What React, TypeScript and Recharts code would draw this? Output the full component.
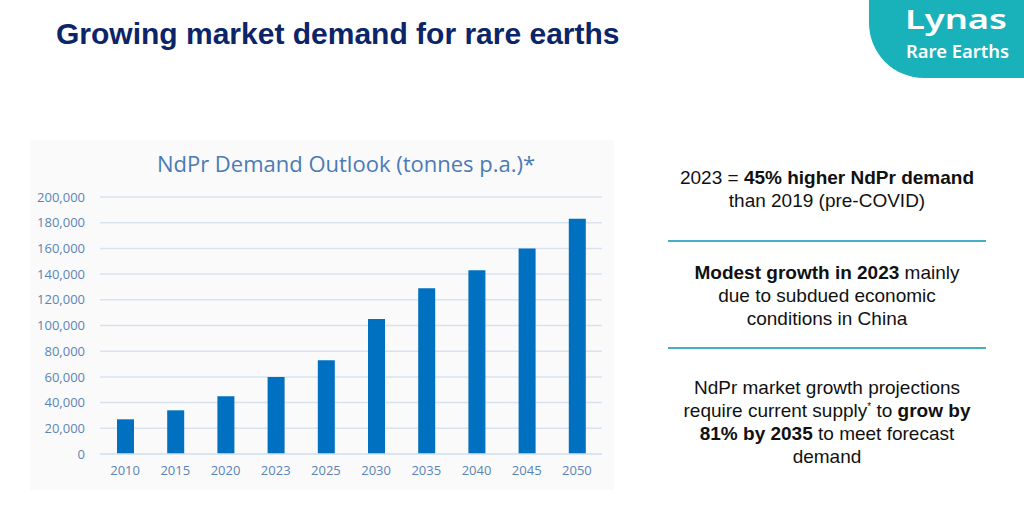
import { BarChart, Bar, XAxis, YAxis, CartesianGrid } from "recharts";

const years = ["2010", "2015", "2020", "2023", "2025", "2030", "2035", "2040", "2045", "2050"];
const demand = [27000, 34000, 45000, 60000, 73000, 105000, 129000, 143000, 160000, 183000];
const yTicks = [0, 20000, 40000, 60000, 80000, 100000, 120000, 140000, 160000, 180000, 200000];

const data = years.map((year, i) => ({ year, demand: demand[i] }));

const tickStyle = { fill: "#5a84b6", fontSize: 13, fontFamily: "'Open Sans', sans-serif" };
const gridColor = "#d9e3f0";

function Logo() {
  return (
    <svg
      width={164}
      height={80}
      style={{ position: "absolute", left: 860, top: 0 }}
    >
      <path d="M9,0 H164 V78 H64 A55,55 0 0 1 9,23 Z" fill="#19b2bb" />
      <text
        x={45}
        y={29}
        fill="#fff"
        fontSize={27}
        fontWeight={600}
        fontFamily="'Noto Sans', sans-serif"
        textLength={102}
        lengthAdjust="spacingAndGlyphs"
      >
        Lynas
      </text>
      <text
        x={46}
        y={58}
        fill="#fff"
        fontSize={17}
        fontWeight={600}
        fontFamily="'Noto Sans', sans-serif"
        textLength={103}
        lengthAdjust="spacingAndGlyphs"
      >
        Rare Earths
      </text>
    </svg>
  );
}

const blockStyle: React.CSSProperties = {
  position: "absolute",
  left: 647,
  width: 360,
  textAlign: "center",
  fontSize: 19,
  lineHeight: "23px",
  color: "#111",
};

const ruleStyle: React.CSSProperties = {
  position: "absolute",
  left: 668,
  width: 318,
  height: 2,
  background: "#47adc3",
};

export default function App() {
  return (
    <div
      style={{
        position: "absolute",
        left: 0,
        top: 0,
        width: 1024,
        height: 530,
        background: "#fff",
        overflow: "hidden",
        fontFamily: "'Liberation Sans', Arial, sans-serif",
      }}
    >
      <div
        style={{
          position: "absolute",
          left: 56,
          top: 17,
          fontSize: 30,
          fontWeight: 700,
          color: "#0c2468",
          whiteSpace: "nowrap",
        }}
      >
        Growing market demand for rare earths
      </div>

      <Logo />

      {/* chart panel */}
      <div
        style={{
          position: "absolute",
          left: 30,
          top: 140,
          width: 584,
          height: 350,
          background: "#fafafb",
        }}
      >
        <div
          style={{
            position: "absolute",
            left: 0,
            width: 632,
            top: 8,
            textAlign: "center",
            fontSize: 22,
            color: "#4a7bb5",
            fontFamily: "'Open Sans', sans-serif",
            whiteSpace: "nowrap",
          }}
        >
          NdPr Demand Outlook (tonnes p.a.)*
        </div>
        <BarChart
          width={584}
          height={350}
          data={data}
          margin={{ top: 57, right: 12, left: 0, bottom: 6 }}
        >
          <CartesianGrid vertical={false} stroke={gridColor} strokeWidth={1.5} />
          <XAxis
            dataKey="year"
            height={30}
            axisLine={{ stroke: gridColor, strokeWidth: 1.5 }}
            tickLine={false}
            tickSize={0}
            tickMargin={12}
            tick={tickStyle}
            interval={0}
          />
          <YAxis
            width={70}
            domain={[0, 200000]}
            ticks={yTicks}
            axisLine={false}
            tickLine={false}
            tickSize={0}
            tickMargin={15}
            tick={tickStyle}
            tickFormatter={(v: number) => v.toLocaleString("en-US")}
          />
          <Bar dataKey="demand" fill="#0070c0" barSize={17} isAnimationActive={false} />
        </BarChart>
      </div>

      {/* right-hand commentary */}
      <div style={{ ...blockStyle, top: 166 }}>
        2023 = <b>45% higher NdPr demand</b>
        <br />
        than 2019 (pre-COVID)
      </div>
      <div style={{ ...ruleStyle, top: 240 }} />
      <div style={{ ...blockStyle, top: 261 }}>
        <b>Modest growth in 2023</b> mainly
        <br />
        due to subdued economic
        <br />
        conditions in China
      </div>
      <div style={{ ...ruleStyle, top: 347 }} />
      <div style={{ ...blockStyle, top: 376 }}>
        NdPr market growth projections
        <br />
        require current supply<sup style={{ fontSize: 10, lineHeight: 0 }}>*</sup> to <b>grow by</b>
        <br />
        <b>81% by 2035</b> to meet forecast
        <br />
        demand
      </div>
    </div>
  );
}
